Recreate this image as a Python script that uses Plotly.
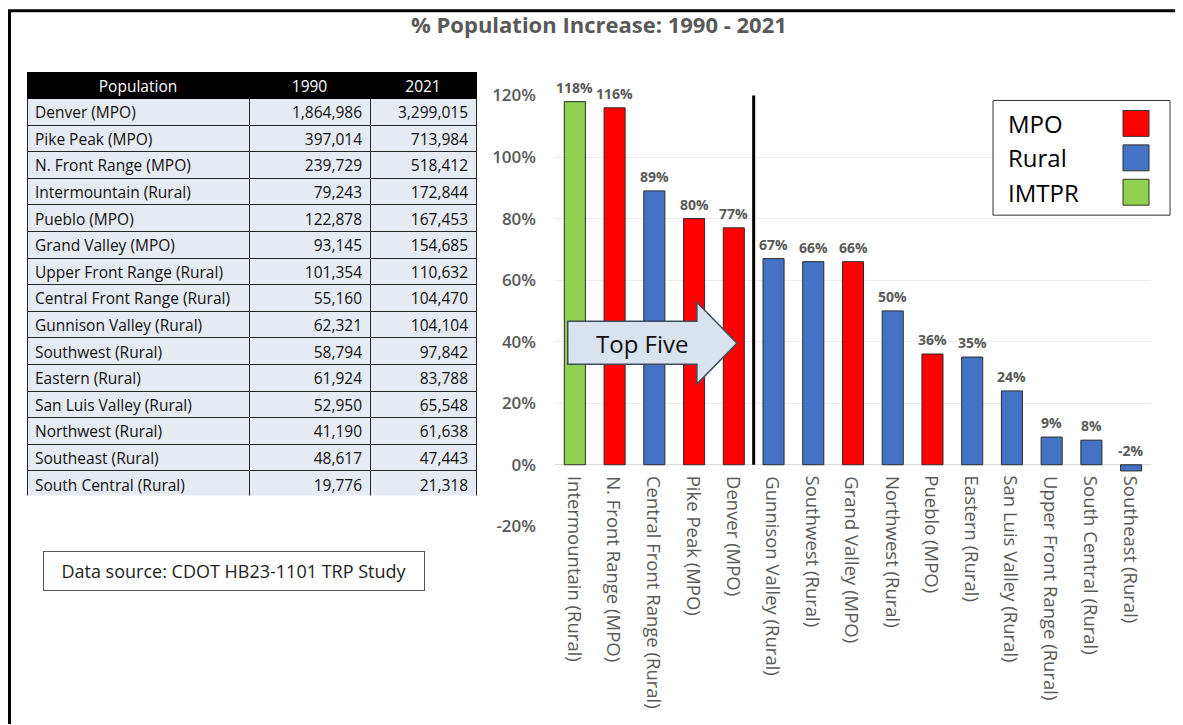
import plotly.graph_objects as go

# ── Data ──────────────────────────────────────────────────────────────────────
regions = [
    "Intermountain (Rural)", "N. Front Range (MPO)", "Central Front Range (Rural)",
    "Pike Peak (MPO)", "Denver (MPO)", "Gunnison Valley (Rural)", "Southwest (Rural)",
    "Grand Valley (MPO)", "Northwest (Rural)", "Pueblo (MPO)", "Eastern (Rural)",
    "San Luis Valley (Rural)", "Upper Front Range (Rural)", "South Central (Rural)",
    "Southeast (Rural)",
]
increase_pct = [118, 116, 89, 80, 77, 67, 66, 66, 50, 36, 35, 24, 9, 8, -2]
region_type = ["IMTPR", "MPO", "Rural", "MPO", "MPO", "Rural", "Rural", "MPO",
               "Rural", "MPO", "Rural", "Rural", "Rural", "Rural", "Rural"]

table_names = [
    "Denver (MPO)", "Pike Peak (MPO)", "N. Front Range (MPO)", "Intermountain (Rural)",
    "Pueblo (MPO)", "Grand Valley (MPO)", "Upper Front Range (Rural)",
    "Central Front Range (Rural)", "Gunnison Valley (Rural)", "Southwest (Rural)",
    "Eastern (Rural)", "San Luis Valley (Rural)", "Northwest (Rural)",
    "Southeast (Rural)", "South Central (Rural)",
]
pop_1990 = [1864986, 397014, 239729, 79243, 122878, 93145, 101354, 55160,
            62321, 58794, 61924, 52950, 41190, 48617, 19776]
pop_2021 = [3299015, 713984, 518412, 172844, 167453, 154685, 110632, 104470,
            104104, 97842, 83788, 65548, 61638, 47443, 21318]

y_ticks = [-20, 0, 20, 40, 60, 80, 100, 120]
legend_types = ["MPO", "Rural", "IMTPR"]

# ── Style ─────────────────────────────────────────────────────────────────────
_COLORS = {"MPO": "#FF0000", "Rural": "#4472C4", "IMTPR": "#92D050"}
_GRAY = "#595959"
_FONT = "Open Sans"
FW, FH = 1167, 727
OX, OY, SY = 8, 19.3, 0.971   # paper -> screenshot mapping (x offset, y offset, y scale)


def px_x(p):
    return (p - OX) / FW


def px_y(p):
    return 1 - (p - OY) / SY / FH


fig = go.Figure()

# table
fig.add_trace(go.Table(
    domain=dict(x=[px_x(27), px_x(476)], y=[px_y(497), px_y(72)]),
    columnwidth=[222, 121, 106],
    header=dict(
        values=["Population", "1990", "2021"],
        fill_color="#000000",
        line=dict(color="#000000", width=1),
        font=dict(family=_FONT, color="white", size=15.5),
        align="center",
        height=26,
    ),
    cells=dict(
        values=[table_names,
                [f"{v:,}" for v in pop_1990],
                [f"{v:,}" for v in pop_2021]],
        fill_color="#e6eaf2",
        line=dict(color="#262626", width=1),
        font=dict(family=_FONT, color="#111111", size=15.5),
        align=["left", "right", "right"],
        height=26.6,
    ),
))

# bars
fig.add_trace(go.Bar(
    x=regions,
    y=increase_pct,
    width=0.53,
    marker=dict(color=[_COLORS[t] for t in region_type],
                line=dict(color="#2b2b2b", width=1)),
    showlegend=False,
    hoverinfo="x+y",
))

annotations = []
for name, v in zip(regions, increase_pct):
    annotations.append(dict(
        x=name, y=max(v, 0), xref="x", yref="y", text=f"{v}%",
        showarrow=False, yanchor="bottom", yshift=3,
        font=dict(family=_FONT, size=14, color=_GRAY, weight="bold"),
    ))
    annotations.append(dict(
        x=name, y=0, xref="x", yref="y", text=name, textangle=90,
        showarrow=False, yanchor="top", xanchor="center", yshift=-9,
        font=dict(family=_FONT, size=18.5, color=_GRAY),
    ))

# title
annotations.append(dict(
    x=px_x(599), y=px_y(23), xref="paper", yref="paper",
    text="% Population Increase: 1990 - 2021", showarrow=False,
    xanchor="center", yanchor="middle",
    font=dict(family=_FONT, size=22, color=_GRAY, weight="bold"),
))

# data source box
annotations.append(dict(
    x=px_x(234), y=px_y(572), xref="paper", yref="paper",
    text="Data source: CDOT HB23-1101 TRP Study", showarrow=False,
    xanchor="center", yanchor="middle",
    width=378, height=36, bordercolor="#555555", borderwidth=1,
    font=dict(family=_FONT, size=18, color="#222222"),
))

# "Top Five" arrow text
annotations.append(dict(
    x=1.7, y=39.5, xref="x", yref="y", text="Top Five", showarrow=False,
    font=dict(family=_FONT, size=24, color="#111111"),
))

shapes = [
    # page border
    dict(type="line", xref="paper", yref="paper", x0=0, x1=1,
         y0=px_y(10), y1=px_y(10), line=dict(color="black", width=3)),
    dict(type="line", xref="paper", yref="paper", x0=1.5 / FW, x1=1.5 / FW,
         y0=px_y(10), y1=0, line=dict(color="black", width=3)),
    # top-five divider
    dict(type="line", xref="x", yref="y", x0=4.5, x1=4.5, y0=0, y1=120.5,
         line=dict(color="black", width=3)),
    # block arrow
    dict(type="path", xref="x", yref="y",
         path="M -0.18,46.6 L 3.07,46.6 L 3.07,52.8 L 4.08,39.5 "
              "L 3.07,26.2 L 3.07,32.7 L -0.18,32.7 Z",
         fillcolor="#d9e2ef", line=dict(color="#3d4b5c", width=1.5)),
    # legend box
    dict(type="rect", xref="paper", yref="paper", x0=px_x(993), x1=px_x(1170),
         y0=px_y(215), y1=px_y(100), fillcolor="white",
         line=dict(color="#333333", width=1)),
]

# custom legend (text left, swatch right)
for i, t in enumerate(legend_types):
    cy = 123 + i * 34.5
    annotations.append(dict(
        x=px_x(1006), y=px_y(cy), xref="paper", yref="paper", text=t,
        xanchor="left", yanchor="middle", showarrow=False,
        font=dict(family=_FONT, size=24, color="#000000"),
    ))
    shapes.append(dict(
        type="rect", xref="paper", yref="paper",
        x0=px_x(1123), x1=px_x(1149), y0=px_y(cy + 13), y1=px_y(cy - 13),
        fillcolor=_COLORS[t], line=dict(color="#333333", width=1),
    ))

fig.update_layout(
    width=FW, height=FH, autosize=False,
    margin=dict(l=0, r=0, t=0, b=0),
    paper_bgcolor="white", plot_bgcolor="white",
    font=dict(family=_FONT, color=_GRAY),
    xaxis=dict(
        domain=[px_x(555), px_x(1151)],
        range=[-0.5, 14.5],
        showticklabels=False, showgrid=False, zeroline=False, ticks="",
    ),
    yaxis=dict(
        domain=[px_y(527), px_y(95)],
        range=[-20, 120],
        tickmode="array",
        tickvals=y_ticks,
        ticktext=[f"{v}%" for v in y_ticks],
        tickfont=dict(family=_FONT, size=17, color=_GRAY, weight=600),
        gridcolor="#ececec", zeroline=True, zerolinecolor="#d9d9d9",
        zerolinewidth=1, ticklabelstandoff=18,
    ),
    annotations=annotations,
    shapes=shapes,
    showlegend=False,
)

fig.write_html("out.html")
